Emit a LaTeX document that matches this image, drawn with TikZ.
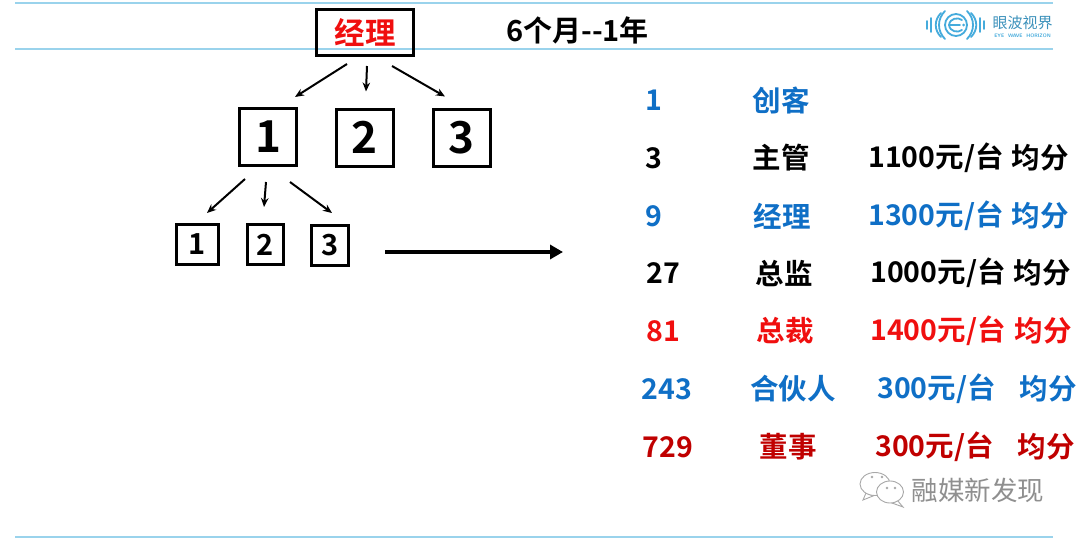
\documentclass[tikz,border=0pt]{standalone}
\usepackage{fontspec}
\setmainfont{Noto Sans CJK SC}[BoldFont={Noto Sans CJK SC Bold}]
\newfontfamily\cjkbold{Noto Sans CJK SC Bold}
\newfontfamily\cjkreg{Noto Sans CJK SC}
\usetikzlibrary{arrows.meta,calc}
\definecolor{rulecol}{HTML}{9AD3EC}
\definecolor{tblue}{HTML}{0F6FC6}
\definecolor{tred}{HTML}{F00F0F}
\definecolor{dred}{HTML}{C00000}
\definecolor{logoblue}{HTML}{45ABDC}
\definecolor{wm}{HTML}{A8A8A8}
\tikzset{
  x=1pt,y=-1pt,
  rulel/.style={draw=rulecol,line width=1.6pt},
  bigbox/.style={draw=black,line width=3pt,fill=none,minimum width=57pt,minimum height=57pt,inner sep=0pt,font=\cjkbold\fontsize{44}{44}\selectfont},
  smallbox/.style={draw=black,line width=3pt,fill=none,minimum height=40pt,inner sep=0pt,font=\cjkbold\fontsize{29}{29}\selectfont},
  mgrbox/.style={draw=black,line width=3pt,fill=none,minimum width=97pt,minimum height=46pt,inner sep=0pt,text=tred,font=\cjkbold\fontsize{30.5}{30.5}\selectfont},
  arr/.style={-{Stealth[length=9pt,width=7.5pt]},line width=2pt,black},
  bigarr/.style={-{Stealth[length=13pt,width=14pt,inset=0pt]},line width=3.5pt,black},
  cell/.style={inner sep=0pt,anchor=center,font=\cjkbold\fontsize{28.5}{28.5}\selectfont},
  title/.style={inner sep=0pt,anchor=center,font=\cjkbold\fontsize{29}{29}\selectfont},
}
\newcommand{\rowtext}[9]{%
  \node[cell,text=#1] (n#2) at (#3,#2) {#4};
  \node[cell,text=#1] (r#2) at (#5,#2) {#6};
  \node[cell,text=#1] (p#2) at (#7,#2) {#8};
  \node[cell,text=#1] (s#2) at (#9,#2) {均分};
}
\begin{document}
\begin{tikzpicture}
\useasboundingbox (0,0) rectangle (1080,538);
\fill[white] (0,0) rectangle (1080,538);
\draw[rulel] (15,3) -- (1053,3);
\draw[rulel] (15,49) -- (1053,49);
\draw[rulel] (15,537) -- (1053,537);

\node[mgrbox] (mgr) at (365,32.5) {经理};
\node[title] (ttl) at (577.5,30) {6个月--1年};

\node[bigbox] (a1) at (268,137) {1};
\node[bigbox] (a2) at (364.5,137.5) {2};
\node[bigbox] (a3) at (461.5,137.5) {3};
\node[smallbox,minimum width=42pt] (b1) at (197.5,244.5) {1};
\node[smallbox,minimum width=36pt] (b2) at (265.5,244.5) {2};
\node[smallbox,minimum width=37pt] (b3) at (330,245.5) {3};

\draw[arr] ($(mgr.south)+(-18,7)$) -- ($(a1.north)+(27,-10)$);
\draw[arr] ($(mgr.south)+(2,9)$) -- ($(a2.north)+(1.5,-16)$);
\draw[arr] ($(mgr.south)+(27,9)$) -- ($(a3.north)+(-16.5,-11)$);
\draw[arr] ($(a1.south)+(-23,12)$) -- ($(b1.north)+(9.5,-10)$);
\draw[arr] ($(a1.south)+(-2,15)$) -- ($(b2.north)+(-1.5,-16)$);
\draw[arr] ($(a1.south)+(22,15)$) -- ($(b3.north)+(2,-11)$);

\coordinate (gs) at ($(b3.east)+(35,6.5)$);
\coordinate (ge) at (563,252);
\draw[bigarr] (gs) -- (ge);

\node[cell,text=tblue] (n100) at (653.5,100) {1};
\node[cell,text=tblue] (r100) at (781,100) {创客};
\rowtext{black}{158}{654}{3}{781}{主管}{936}{1100元/台}{1040}
\rowtext{tblue}{216}{654}{9}{782}{经理}{936}{1300元/台}{1040}
\rowtext{black}{273}{663}{27}{784}{总监}{938}{1000元/台}{1042}
\rowtext{tred}{331}{663}{81}{785}{总裁}{938}{1400元/台}{1043}
\rowtext{tblue}{389}{667}{243}{793}{合伙人}{936.5}{300元/台}{1048}
\rowtext{dred}{447}{668}{729}{788}{董事}{934.5}{300元/台}{1046}

% logo
\begin{scope}[logoblue,line width=1.8pt,line cap=round]
  \draw (927,21) -- (927,29);
  \draw (931,18) -- (931,32);
  \draw (980,18) -- (980,32);
  \draw (984,21) -- (984,29);
  \draw (941,13) .. controls (934,20) and (934,30) .. (941,37);
  \draw (945,11) .. controls (937,19) and (937,31) .. (945,39);
  \draw (967,11) .. controls (975,19) and (975,31) .. (967,39);
  \draw (971,13) .. controls (978,20) and (978,30) .. (971,37);
  \draw (956,14) arc[start angle=90,end angle=450,radius=11pt];
  \draw (962,20) .. controls (958,17) and (950,18) .. (949,25) .. controls (950,32) and (958,33) .. (962,30);
  \draw (949,25) -- (960,25);
\end{scope}
\fill[logoblue] (963.5,25) circle[radius=1.5pt];
\node[inner sep=0pt,text=logoblue!85!black,font=\cjkreg\fontsize{15}{15}\selectfont] (lg) at (1022.5,23) {眼波视界};
\node[inner sep=0pt,text=logoblue,font=\sffamily\bfseries\fontsize{5}{5}\selectfont] (lgs) at (1022.5,36) {EYE\ \ WAVE\ \ HORIZON};

% watermark
\begin{scope}[wm,line width=0.9pt]
  \draw[fill=white] (866,493) -- (863,500) -- (873,496) -- cycle;
  \draw[fill=white] (875,484) ellipse[x radius=15pt,y radius=11.5pt];
  \draw[fill=white] (897,500) -- (903,507) -- (892,503) -- cycle;
  \draw[fill=white] (890,492) ellipse[x radius=13.5pt,y radius=11pt];
  \fill (872,477) circle[radius=1.3pt] (882,477) circle[radius=1.3pt];
  \fill (887,488) circle[radius=1.3pt] (895,488) circle[radius=1.3pt];
\end{scope}
\node[inner sep=0pt,anchor=center,text=wm!85!black,font=\cjkreg\fontsize{26.5}{26.5}\selectfont] (wmt) at (978,490) {融媒新发现};
\end{tikzpicture}
\end{document}
